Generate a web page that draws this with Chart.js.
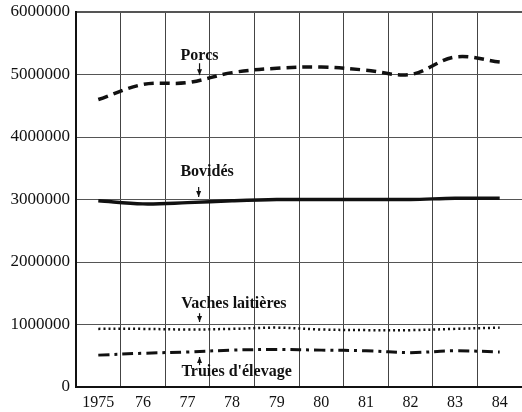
<!DOCTYPE html>
<html>
<head>
<meta charset="utf-8">
<script src="https://cdn.jsdelivr.net/npm/chart.js@4/dist/chart.umd.min.js"></script>
<style>
  html, body { margin: 0; padding: 0; background: #fff; }
  #wrap { width: 522px; height: 412px; }
</style>
</head>
<body>
<div id="wrap"><canvas id="chart" width="522" height="412"></canvas></div>
<script>
const years = ["1975", "76", "77", "78", "79", "80", "81", "82", "83", "84"];
const porcs = [4600000, 4840000, 4870000, 5030000, 5100000, 5120000, 5070000, 5000000, 5280000, 5200000];
const bovides = [2980000, 2930000, 2950000, 2980000, 3000000, 3000000, 3000000, 3000000, 3020000, 3020000];
const vaches = [930000, 930000, 920000, 930000, 950000, 920000, 910000, 910000, 930000, 950000];
const truies = [510000, 540000, 560000, 590000, 600000, 590000, 580000, 550000, 580000, 560000];
const yTicks = [0, 1000000, 2000000, 3000000, 4000000, 5000000, 6000000];

// series labels with little arrows, placed in data units
const notes = [
  { text: "Porcs", x: 2.27, y: 5300000, ax: 2.27, from: 5180000, to: 4990000 },
  { text: "Bovidés", x: 2.44, y: 3440000, ax: 2.25, from: 3200000, to: 3040000 },
  { text: "Vaches laitières", x: 3.04, y: 1330000, ax: 2.27, from: 1180000, to: 1040000 },
  { text: "Truies d'élevage", x: 3.1, y: 240000, ax: 2.27, from: 350000, to: 480000 },
];

const notesPlugin = {
  id: "notes",
  afterDatasetsDraw(chart) {
    const ctx = chart.ctx;
    const xs = chart.scales.x, ys = chart.scales.y;
    ctx.save();
    ctx.fillStyle = "#111";
    ctx.strokeStyle = "#111";
    ctx.font = "bold 16px 'Liberation Serif', serif";
    ctx.textAlign = "center";
    ctx.textBaseline = "middle";
    notes.forEach((n) => {
      ctx.fillText(n.text, xs.getPixelForValue(n.x), ys.getPixelForValue(n.y));
      const ax = xs.getPixelForValue(n.ax);
      const y1 = ys.getPixelForValue(n.from), y2 = ys.getPixelForValue(n.to);
      const dir = y2 > y1 ? 1 : -1;
      ctx.lineWidth = 1.2;
      ctx.beginPath();
      ctx.moveTo(ax, y1);
      ctx.lineTo(ax, y2);
      ctx.stroke();
      ctx.beginPath();
      ctx.moveTo(ax, y2);
      ctx.lineTo(ax - 2.5, y2 - dir * 6);
      ctx.lineTo(ax + 2.5, y2 - dir * 6);
      ctx.closePath();
      ctx.fill();
    });
    ctx.restore();
  },
};

function line(label, data, dash, width) {
  return {
    label, data,
    borderColor: "#111",
    borderWidth: width,
    borderDash: dash,
    borderCapStyle: "butt",
    pointRadius: 0,
    tension: 0.35,
    fill: false,
  };
}

new Chart(document.getElementById("chart"), {
  type: "line",
  data: {
    labels: years,
    datasets: [
      line("Porcs", porcs, [10, 6], 3.5),
      line("Bovidés", bovides, [], 3.5),
      line("Vaches laitières", vaches, [2, 3], 2.5),
      line("Truies d'élevage", truies, [11, 5, 3, 5], 3),
    ],
  },
  options: {
    responsive: false,
    animation: false,
    layout: { padding: { top: 12, right: 0, left: 0, bottom: 0 } },
    plugins: { legend: { display: false }, tooltip: { enabled: false } },
    scales: {
      x: {
        type: "category",
        offset: true,
        grid: { offset: true, color: "#444", lineWidth: 1, drawTicks: false },
        border: { color: "#111", width: 2 },
        ticks: { color: "#111", padding: 6, maxRotation: 0, font: { family: "'Liberation Serif', serif", size: 16 } },
        afterFit: (s) => { s.height = 25; },
      },
      y: {
        min: 0, max: 6000000,
        afterBuildTicks: (s) => { s.ticks = yTicks.map((v) => ({ value: v })); },
        grid: {
          color: "#555",
          drawTicks: false,
          lineWidth: (c) => (c.tick && c.tick.value === 6000000 ? 2 : 1),
        },
        border: { color: "#111", width: 2 },
        ticks: {
          color: "#111", padding: 6,
          font: { family: "'Liberation Serif', serif", size: 17 },
          callback: (v) => String(v),
        },
        afterFit: (s) => { s.width = 76; s.paddingTop = 0; s.paddingBottom = 0; },
      },
    },
  },
  plugins: [notesPlugin],
});
</script>
</body>
</html>
